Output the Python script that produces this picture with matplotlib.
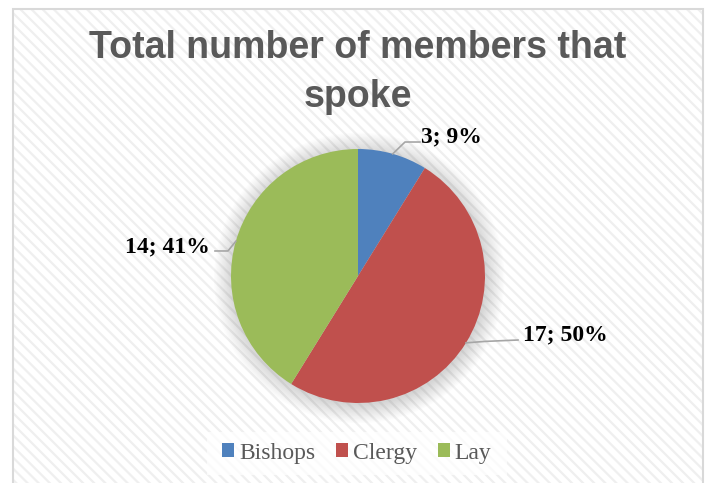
import numpy as np
import matplotlib.pyplot as plt
from matplotlib.patches import Rectangle, Circle, Patch
from matplotlib.font_manager import FontProperties

# chart data
categories = ['Bishops', 'Clergy', 'Lay']
counts = [3, 17, 14]
colors = ['#4F81BD', '#C0504D', '#9BBB59']
title = 'Total number of members that\nspoke'

W, H = 707, 483
cx, cy, r = 358, 276, 127  # pie centre / radius in pixels

fig = plt.figure(figsize=(W / 100, H / 100), dpi=100)
fig.patch.set_facecolor('white')

# striped chart area with a light grey border
plt.rcParams['hatch.linewidth'] = 1.6
bg = Rectangle((13 / W, -0.05), 690 / W, 1.05 - 9 / H, transform=fig.transFigure,
               facecolor='white', edgecolor='#efefef', hatch='\\\\\\', linewidth=0, zorder=-3)
fig.add_artist(bg)
border = Rectangle((13 / W, -0.05), 690 / W, 1.05 - 9 / H, transform=fig.transFigure,
                   facecolor='none', edgecolor='#d9d9d9', linewidth=1.5, zorder=-2)
fig.add_artist(border)

# one axes over the whole figure, 1 data unit = pie radius
ax = fig.add_axes([0, 0, 1, 1])
ax.patch.set_alpha(0)

# soft shadow behind the pie
for i in range(14):
    ax.add_patch(Circle((0.01, -0.015), 1 + 0.011 * i, facecolor='#808080',
                        alpha=0.022, linewidth=0, zorder=0))

wedges, _ = ax.pie(counts, colors=colors, startangle=90, counterclock=False,
                   radius=1, center=(0, 0), wedgeprops=dict(linewidth=0, zorder=1))

ax.set_xlim(-cx / r, (W - cx) / r)
ax.set_ylim((cy - H) / r, cy / r)
ax.set_aspect('auto')
ax.axis('off')

# data labels with leader lines (elbow, line end, text position, alignment)
total = sum(counts)
label_layout = [
    ((0.370, 1.055), (0.488, 1.055), (0.496, 1.055), 'left'),
    ((1.000, -0.515), (1.260, -0.504), (1.299, -0.504), 'left'),
    ((-1.024, 0.197), (-1.126, 0.197), (-1.165, 0.189), 'right'),
]
for w, v, (elbow, end, pos, ha) in zip(wedges, counts, label_layout):
    mid = np.deg2rad((w.theta1 + w.theta2) / 2)
    anchor = (np.cos(mid), np.sin(mid))
    ax.plot([anchor[0], elbow[0], end[0]], [anchor[1], elbow[1], end[1]],
            color='#a6a6a6', linewidth=1.2, zorder=2)
    ax.text(pos[0], pos[1], f'{v}; {round(100 * v / total)}%', ha=ha, va='baseline',
            fontsize=17, fontweight='bold', family='Liberation Serif', color='black')

# title (baseline of the last line)
fig.text(358 / W, 1 - 107 / H, title, ha='center', va='baseline', fontsize=27,
         fontweight='bold', family='Liberation Sans', color='#595959', linespacing=1.45)

# legend box and legend
fig.add_artist(Rectangle((207 / W, 1 - 475 / H), 300 / W, 43 / H, transform=fig.transFigure,
                         facecolor='white', alpha=0.75, linewidth=0, zorder=-1))
handles = [Patch(facecolor=c, linewidth=0) for c in colors]
legend_font = FontProperties(family='Liberation Serif', size=17)
ax.legend(handles, categories, ncol=3, loc='center', bbox_to_anchor=(357 / W, 1 - 453 / H),
          bbox_transform=fig.transFigure, frameon=False,
          prop=legend_font, labelcolor='#595959',
          handlelength=0.5, handleheight=0.5, handletextpad=0.2, columnspacing=0.9)

fig.savefig('out.png', dpi=100)
